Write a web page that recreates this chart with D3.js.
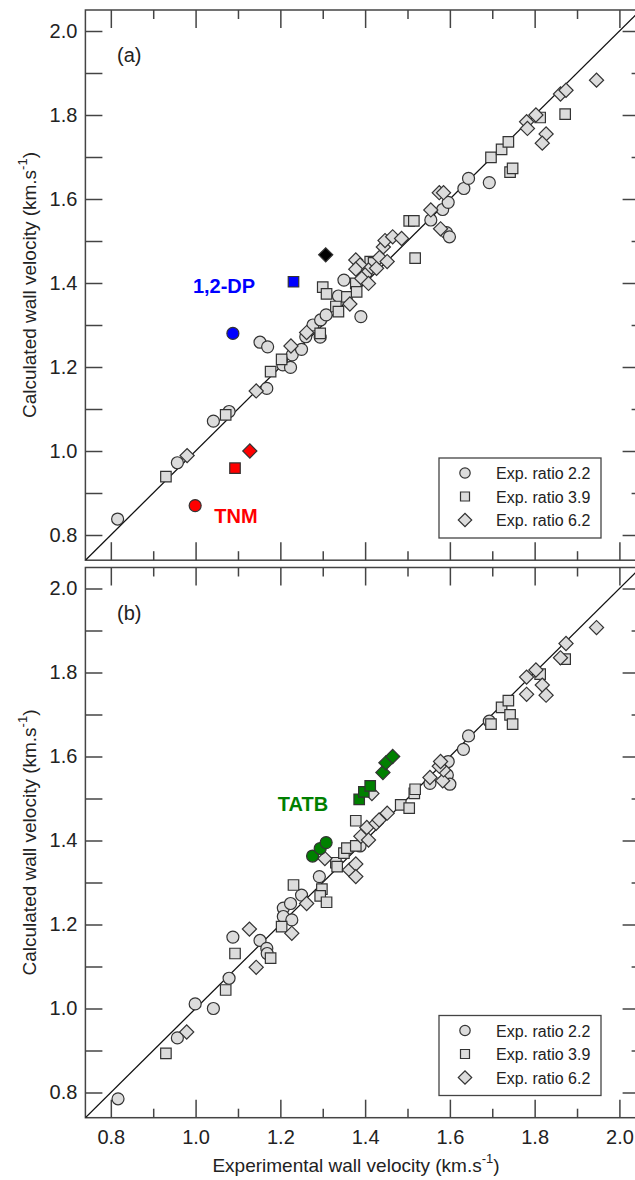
<!DOCTYPE html>
<html>
<head>
<meta charset="utf-8">
<script src="https://cdn.jsdelivr.net/npm/d3@7"></script>
<style>
  html, body { margin: 0; padding: 0; background: #fff; }
  svg { display: block; }
  text { font-family: "Liberation Sans", Arial, Helvetica, sans-serif; }
</style>
</head>
<body>
<svg id="chart" width="635" height="1180"></svg>
<script>
// ---------------- DATA ----------------
const majorTicks = [0.8, 1.0, 1.2, 1.4, 1.6, 1.8, 2.0];
const minorTicks = [0.9, 1.1, 1.3, 1.5, 1.7, 1.9];
const axisDomain = [0.74, 2.05];
const legendLabels = ["Exp. ratio 2.2", "Exp. ratio 3.9", "Exp. ratio 6.2"];

// Panel (a)
const aCircles = [[0.816,0.838],[0.957,0.972],[1.042,1.071],[1.079,1.094],[1.168,1.149],[1.152,1.259],
  [1.170,1.248],[1.206,1.205],[1.224,1.199],[1.228,1.229],[1.250,1.242],[1.260,1.272],[1.277,1.300],
  [1.294,1.271],[1.295,1.312],[1.308,1.324],[1.337,1.369],[1.350,1.407],[1.390,1.320],[1.555,1.550],
  [1.583,1.575],[1.596,1.592],[1.592,1.520],[1.599,1.510],[1.633,1.625],[1.644,1.649],[1.693,1.639]];
const aSquares = [[0.930,0.939],[1.071,1.086],[1.177,1.189],[1.203,1.218],[1.294,1.280],[1.300,1.390],
  [1.309,1.374],[1.331,1.344],[1.337,1.332],[1.357,1.367],[1.378,1.399],[1.380,1.379],[1.412,1.451],
  [1.420,1.448],[1.504,1.548],[1.515,1.548],[1.518,1.459],[1.697,1.699],[1.722,1.718],[1.738,1.736],
  [1.742,1.664],[1.748,1.673],[1.813,1.794],[1.872,1.802]];
const aDiamonds = [[0.980,0.989],[1.143,1.143],[1.225,1.250],[1.262,1.282],[1.364,1.350],[1.378,1.455],
  [1.388,1.443],[1.378,1.433],[1.408,1.431],[1.427,1.435],[1.400,1.419],[1.392,1.411],[1.408,1.399],
  [1.434,1.461],[1.452,1.451],[1.443,1.486],[1.447,1.501],[1.465,1.510],[1.486,1.506],[1.555,1.574],
  [1.575,1.615],[1.585,1.615],[1.578,1.529],[1.781,1.784],[1.783,1.768],[1.803,1.800],[1.827,1.755],
  [1.818,1.733],[1.861,1.850],[1.874,1.859],[1.946,1.883]];
const dpCircle = [[1.088,1.280]];
const dpSquare = [[1.231,1.403]];
const dpDiamond = [[1.307,1.467]];
const tnmCircle = [[0.999,0.870]];
const tnmSquare = [[1.093,0.959]];
const tnmDiamond = [[1.128,1.000]];

// Panel (b)
const bCircles = [[0.817,0.785],[0.957,0.930],[0.999,1.011],[1.042,1.000],[1.079,1.072],[1.088,1.170],
  [1.152,1.162],[1.168,1.143],[1.169,1.131],[1.207,1.239],[1.224,1.250],[1.207,1.219],[1.227,1.211],
  [1.250,1.270],[1.292,1.314],[1.388,1.387],[1.553,1.536],[1.594,1.556],[1.596,1.588],[1.600,1.534],
  [1.632,1.617],[1.644,1.649],[1.693,1.684]];
const bSquares = [[0.930,0.893],[1.071,1.044],[1.093,1.131],[1.177,1.120],[1.203,1.195],[1.231,1.294],
  [1.298,1.284],[1.294,1.268],[1.309,1.253],[1.331,1.347],[1.334,1.338],[1.350,1.370],[1.357,1.382],
  [1.378,1.387],[1.378,1.447],[1.484,1.485],[1.504,1.477],[1.516,1.512],[1.518,1.522],[1.697,1.677],
  [1.722,1.717],[1.738,1.733],[1.742,1.699],[1.748,1.677],[1.813,1.796],[1.872,1.832]];
const bDiamonds = [[0.979,0.944],[1.127,1.189],[1.143,1.098],[1.227,1.179],[1.262,1.250],[1.305,1.357],
  [1.363,1.330],[1.378,1.344],[1.378,1.314],[1.390,1.410],[1.404,1.431],[1.408,1.401],[1.416,1.512],
  [1.426,1.441],[1.433,1.449],[1.452,1.465],[1.553,1.550],[1.583,1.542],[1.585,1.568],[1.575,1.577],
  [1.578,1.588],[1.781,1.748],[1.781,1.789],[1.803,1.806],[1.818,1.770],[1.827,1.746],[1.861,1.835],
  [1.874,1.869],[1.946,1.907]];
const tatbCircles = [[1.276,1.363],[1.294,1.381],[1.308,1.395]];
const tatbSquares = [[1.386,1.498],[1.397,1.516],[1.412,1.530]];
const tatbDiamonds = [[1.442,1.562],[1.449,1.585],[1.465,1.600]];

// ---------------- DRAW ----------------
const svg = d3.select("#chart");
svg.append("rect").attr("width", 635).attr("height", 1180).attr("fill", "#fff");

const left = 85.4, right = 640.6;
const x = d3.scaleLinear().domain(axisDomain).range([left, right]);
const axisColor = "#444";
const grayFill = "#dcdcdc";
const markStroke = "#333";

function symbolPath(type, s) {
  if (type === "circle") return d3.symbol(d3.symbolCircle, Math.PI * s * s)();
  return d3.symbol(d3.symbolSquare, s * s)();
}
function drawMarks(g, data, y, type, fill, size) {
  const sz = size || (type === "circle" ? 6 : (type === "square" ? 10.5 : 10));
  g.selectAll(null).data(data).enter().append("path")
    .attr("d", symbolPath(type, sz))
    .attr("transform", d => `translate(${x(d[0])},${y(d[1])})` + (type === "diamond" ? " rotate(45)" : ""))
    .attr("fill", fill)
    .attr("stroke", markStroke)
    .attr("stroke-width", 1.2);
}

function styleAxis(sel) {
  sel.select(".domain").remove();
  sel.selectAll("line").attr("stroke", axisColor).attr("stroke-width", 1.5);
  sel.selectAll("text").attr("fill", "#222").attr("font-size", 20)
     .attr("font-family", '"Liberation Sans", Arial, sans-serif');
}

function drawPanel(top, bottom, label, series, highlights, bottomLabels, legendTop) {
  const y = d3.scaleLinear().domain(axisDomain).range([bottom, top]);
  const g = svg.append("g");
  const clipId = "clip" + Math.round(top);
  g.append("clipPath").attr("id", clipId).append("rect")
    .attr("x", left).attr("y", top).attr("width", right - left).attr("height", bottom - top);

  // axes
  const la = g.append("g").attr("transform", `translate(${left},0)`)
    .call(d3.axisLeft(y).tickValues(majorTicks).tickSize(-17).tickPadding(8).tickFormat(d3.format(".1f")));
  styleAxis(la);
  const lm = g.append("g").attr("transform", `translate(${left},0)`)
    .call(d3.axisLeft(y).tickValues(minorTicks).tickSize(-17).tickFormat(""));
  styleAxis(lm);
  const ra = g.append("g").attr("transform", `translate(${right},0)`)
    .call(d3.axisRight(y).tickValues(majorTicks).tickSize(-18).tickFormat(""));
  styleAxis(ra);
  const rm = g.append("g").attr("transform", `translate(${right},0)`)
    .call(d3.axisRight(y).tickValues(minorTicks).tickSize(-9).tickFormat(""));
  styleAxis(rm);
  const ta = g.append("g").attr("transform", `translate(0,${top})`)
    .call(d3.axisTop(x).tickValues(majorTicks).tickSize(-18).tickFormat(""));
  styleAxis(ta);
  const tm = g.append("g").attr("transform", `translate(0,${top})`)
    .call(d3.axisTop(x).tickValues(minorTicks).tickSize(-9).tickFormat(""));
  styleAxis(tm);
  const ba = g.append("g").attr("transform", `translate(0,${bottom})`)
    .call(d3.axisBottom(x).tickValues(majorTicks).tickSize(-18).tickPadding(12)
      .tickFormat(bottomLabels ? d3.format(".1f") : ""));
  styleAxis(ba);
  const bm = g.append("g").attr("transform", `translate(0,${bottom})`)
    .call(d3.axisBottom(x).tickValues(minorTicks).tickSize(-9).tickFormat(""));
  styleAxis(bm);

  // frame
  g.append("rect").attr("x", left).attr("y", top).attr("width", right - left).attr("height", bottom - top)
    .attr("fill", "none").attr("stroke", axisColor).attr("stroke-width", 1.5);

  // 1:1 line
  g.append("line").attr("clip-path", `url(#${clipId})`)
    .attr("x1", x(axisDomain[0])).attr("y1", y(axisDomain[0]))
    .attr("x2", x(axisDomain[1])).attr("y2", y(axisDomain[1]))
    .attr("stroke", "#111").attr("stroke-width", 1.3);

  const mg = g.append("g");
  drawMarks(mg, series.circles, y, "circle", grayFill);
  drawMarks(mg, series.squares, y, "square", grayFill);
  drawMarks(mg, series.diamonds, y, "diamond", grayFill);
  highlights.forEach(h => drawMarks(mg, h.data, y, h.type, h.fill));

  // panel label
  g.append("text").attr("x", 117).attr("y", top + 52).attr("font-size", 20).attr("fill", "#222").text(label);

  // legend
  const lg = g.append("g");
  lg.append("rect").attr("x", 439).attr("y", legendTop).attr("width", 162).attr("height", 80)
    .attr("fill", "#fff").attr("stroke", axisColor).attr("stroke-width", 1.3);
  const types = ["circle", "square", "diamond"];
  const sizes = [5.2, 9, 9.5];
  legendLabels.forEach((t, i) => {
    const cy = legendTop + 15 + i * 23.5;
    lg.append("path").attr("d", symbolPath(types[i], sizes[i]))
      .attr("transform", `translate(465,${cy})` + (types[i] === "diamond" ? " rotate(45)" : ""))
      .attr("fill", grayFill).attr("stroke", markStroke).attr("stroke-width", 1.2);
    lg.append("text").attr("x", 496).attr("y", cy + 6).attr("font-size", 16).attr("fill", "#222").text(t);
  });
  return {g, y};
}

// Panel (a)
const pa = drawPanel(10, 560.2, "(a)",
  {circles: aCircles, squares: aSquares, diamonds: aDiamonds},
  [{data: dpCircle, type: "circle", fill: "#0000ff"},
   {data: dpSquare, type: "square", fill: "#0000ff"},
   {data: dpDiamond, type: "diamond", fill: "#000000"},
   {data: tnmCircle, type: "circle", fill: "#ff0000"},
   {data: tnmSquare, type: "square", fill: "#ff0000"},
   {data: tnmDiamond, type: "diamond", fill: "#ff0000"}],
  false, 458);
pa.g.append("text").attr("x", 224).attr("y", 293).attr("text-anchor", "middle")
  .attr("font-size", 20).attr("font-weight", "bold").attr("fill", "#0000ff").text("1,2-DP");
pa.g.append("text").attr("x", 236).attr("y", 523).attr("text-anchor", "middle")
  .attr("font-size", 20).attr("font-weight", "bold").attr("fill", "#ff0000").text("TNM");

// Panel (b)
const pb = drawPanel(567.5, 1117.7, "(b)",
  {circles: bCircles, squares: bSquares, diamonds: bDiamonds},
  [{data: tatbCircles, type: "circle", fill: "#008000"},
   {data: tatbSquares, type: "square", fill: "#008000"},
   {data: tatbDiamonds, type: "diamond", fill: "#008000"}],
  true, 1015.5);
pb.g.append("text").attr("x", 303).attr("y", 811).attr("text-anchor", "middle")
  .attr("font-size", 20).attr("font-weight", "bold").attr("fill", "#008000").text("TATB");

// Axis titles
function unitTitle(sel, main) {
  sel.append("tspan").text(main + " (km.s");
  sel.append("tspan").attr("font-size", 13).attr("dy", -9).text("-1");
  sel.append("tspan").attr("dy", 9).text(")");
}
[285, 842.5].forEach(cy => {
  const t = svg.append("text").attr("transform", `translate(36,${cy}) rotate(-90)`)
    .attr("text-anchor", "middle").attr("font-size", 19).attr("fill", "#222");
  unitTitle(t, "Calculated wall velocity");
});
const xt = svg.append("text").attr("x", 356).attr("y", 1172).attr("text-anchor", "middle")
  .attr("font-size", 19).attr("fill", "#222");
unitTitle(xt, "Experimental wall velocity");
</script>
</body>
</html>
